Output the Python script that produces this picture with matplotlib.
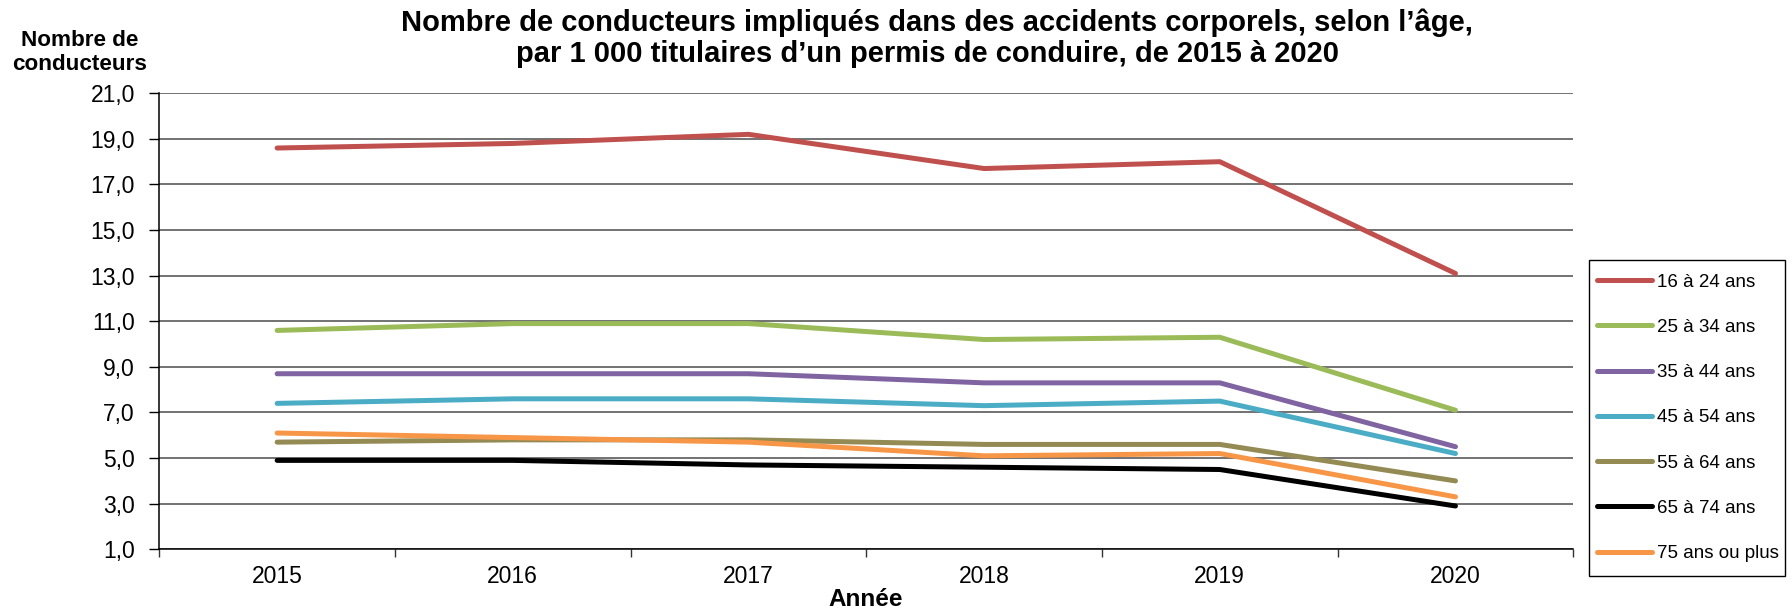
import matplotlib
matplotlib.use("Agg")
import matplotlib.pyplot as plt
from matplotlib.ticker import FuncFormatter, FixedLocator
from matplotlib.patches import Rectangle

plt.rcParams['font.family'] = ['Liberation Sans', 'DejaVu Sans']

years = ["2015", "2016", "2017", "2018", "2019", "2020"]
labels = ["16 à 24 ans", "25 à 34 ans", "35 à 44 ans", "45 à 54 ans",
          "55 à 64 ans", "65 à 74 ans", "75 ans ou plus"]
age_16_24 = [18.6, 18.8, 19.2, 17.7, 18.0, 13.1]
age_25_34 = [10.6, 10.9, 10.9, 10.2, 10.3, 7.1]
age_35_44 = [8.7, 8.7, 8.7, 8.3, 8.3, 5.5]
age_45_54 = [7.4, 7.6, 7.6, 7.3, 7.5, 5.2]
age_55_64 = [5.7, 5.8, 5.8, 5.6, 5.6, 4.0]
age_65_74 = [4.9, 4.9, 4.7, 4.6, 4.5, 2.9]
age_75_plus = [6.1, 5.9, 5.7, 5.1, 5.2, 3.3]
series = [age_16_24, age_25_34, age_35_44, age_45_54, age_55_64, age_65_74, age_75_plus]
colors = ["#C0504D", "#9BBB59", "#8064A2", "#4BACC6", "#948A54", "#000000", "#F79646"]

W, H = 1792, 610
fig = plt.figure(figsize=(W / 100, H / 100), dpi=100)
ax = fig.add_axes([159.3 / W, (H - 549.3) / H, (1573.3 - 159.3) / W, (549.3 - 93.3) / H])

x = list(range(len(years)))
handles = []
for vals, col, lab in zip(series, colors, labels):
    h, = ax.plot(x, vals, color=col, lw=3.6, solid_capstyle='round', label=lab, zorder=3)
    handles.append(h)

ax.set_xlim(-0.5, len(years) - 0.5)
ax.set_ylim(1, 21)
ax.set_yticks([1, 3, 5, 7, 9, 11, 13, 15, 17, 19, 21])
ax.yaxis.set_major_formatter(FuncFormatter(lambda v, p: f"{v:.1f}".replace('.', ',')))
ax.grid(axis='y', color='#5a5a5a', lw=1.2, zorder=1)
ax.set_axisbelow(True)

ax.xaxis.set_major_locator(FixedLocator([i - 0.5 for i in range(len(years) + 1)]))
ax.xaxis.set_major_formatter(FuncFormatter(lambda v, p: ""))
ax.xaxis.set_minor_locator(FixedLocator(x))
ax.set_xticks(x, years, minor=True)
ax.tick_params(axis='x', which='major', length=6, width=1, color='#333333', direction='out')
ax.tick_params(axis='x', which='minor', length=0, pad=11, labelsize=16.5)
ax.tick_params(axis='y', length=7.5, width=1, direction='out', pad=10, labelsize=16.5)

for s in ['top', 'right']:
    ax.spines[s].set_visible(False)
for s in ['left', 'bottom']:
    ax.spines[s].set_color('black')
    ax.spines[s].set_linewidth(1.1)

fig.text(937 / W, 1 - 30.7 / H, "Nombre de conducteurs impliqués dans des accidents corporels, selon l’âge,",
         ha='center', va='baseline', fontsize=21, fontweight='bold')
fig.text(927 / W, 1 - 61.7 / H, "par 1 000 titulaires d’un permis de conduire, de 2015 à 2020",
         ha='center', va='baseline', fontsize=21, fontweight='bold')

fig.text(80 / W, 1 - 46 / H, "Nombre de", ha='center', va='baseline', fontsize=16.2, fontweight='bold')
fig.text(80 / W, 1 - 70.5 / H, "conducteurs", ha='center', va='baseline', fontsize=16.2, fontweight='bold')

fig.text(866 / W, 1 - 606 / H, "Année", ha='center', va='baseline', fontsize=17.5, fontweight='bold')

# legend frame
lx0, lx1, ly0, ly1 = 1589.3, 1784.7, 260, 576
fig.add_artist(Rectangle((lx0 / W, 1 - ly1 / H), (lx1 - lx0) / W, (ly1 - ly0) / H,
                         transform=fig.transFigure, fill=False, edgecolor='black', lw=1.0))
leg = fig.legend(handles=handles, loc='upper left',
                 bbox_to_anchor=(1596.7 / W, 1 - 273.5 / H),
                 fontsize=13.5, frameon=False,
                 handlelength=2.93, handletextpad=0.27, labelspacing=1.5, borderpad=0,
                 borderaxespad=0)

fig.savefig("out.png", dpi=100)
